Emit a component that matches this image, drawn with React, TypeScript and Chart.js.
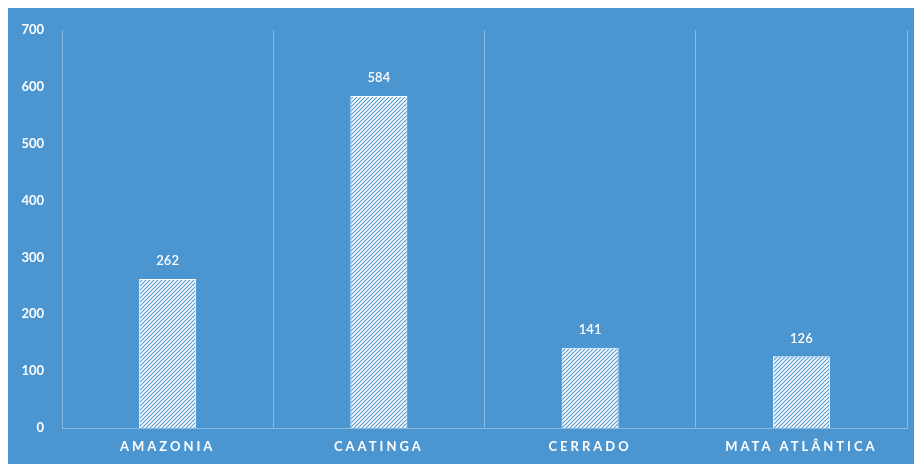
import React, { useEffect, useRef } from "react";
import { Chart, registerables } from "chart.js";

Chart.register(...registerables);

const categories = ["AMAZONIA", "CAATINGA", "CERRADO", "MATA ATLÂNTICA"];
const values = [262, 584, 141, 126];
const yMin = 0;
const yMax = 700;
const yStep = 100;

const BG = "#4b95d0";
const FONT = "Lato, 'Open Sans', 'Liberation Sans', sans-serif";

function makePattern(): CanvasPattern | string {
  const c = document.createElement("canvas");
  c.width = 4;
  c.height = 4;
  const g = c.getContext("2d");
  if (!g) return "#ffffff";
  g.fillStyle = BG;
  g.fillRect(0, 0, 4, 4);
  g.strokeStyle = "#ffffff";
  g.lineWidth = 1.8;
  g.lineCap = "square";
  const segs = [
    [-1, 5, 5, -1],
    [-5, 5, 1, -1],
    [3, 5, 9, -1],
  ];
  for (const s of segs) {
    g.beginPath();
    g.moveTo(s[0], s[1]);
    g.lineTo(s[2], s[3]);
    g.stroke();
  }
  const p = g.createPattern(c, "repeat");
  return p || "#ffffff";
}

const labelsPlugin = {
  id: "customLabels",
  afterDatasetsDraw(chart: any) {
    const ctx = chart.ctx;
    const meta = chart.getDatasetMeta(0);
    ctx.save();
    ctx.fillStyle = "#ffffff";
    ctx.font = `600 13px ${FONT}`;
    ctx.textAlign = "center";
    ctx.textBaseline = "middle";
    meta.data.forEach((bar: any, i: number) => {
      ctx.fillText(String(values[i]), bar.x, bar.y - 18);
    });
    ctx.restore();
  },
  afterDraw(chart: any) {
    const ctx = chart.ctx;
    const xs = chart.scales.x;
    ctx.save();
    ctx.fillStyle = "#ffffff";
    ctx.font = `bold 13px ${FONT}`;
    (ctx as any).letterSpacing = "3px";
    ctx.textAlign = "center";
    ctx.textBaseline = "middle";
    categories.forEach((c, i) => {
      ctx.fillText(c, xs.getPixelForValue(i), chart.chartArea.bottom + 19);
    });
    ctx.restore();
  },
};

export default function App() {
  const ref = useRef<HTMLCanvasElement>(null);
  useEffect(() => {
    if (!ref.current) return;
    const chart = new Chart(ref.current, {
      type: "bar",
      data: {
        labels: categories,
        datasets: [
          {
            data: values,
            backgroundColor: makePattern() as any,
            borderColor: "#ffffff",
            borderWidth: 1,
            barPercentage: 0.27,
            categoryPercentage: 1,
          },
        ],
      },
      options: {
        responsive: false,
        animation: false,
        devicePixelRatio: 1,
        layout: { padding: { left: 0, top: 22, right: 15, bottom: 0 } },
        plugins: { legend: { display: false }, tooltip: { enabled: false } },
        scales: {
          x: {
            offset: true,
            grid: {
              display: true,
              offset: true,
              color: "rgba(255,255,255,0.35)",
              lineWidth: 1,
              drawTicks: false,
            },
            border: { display: true, color: "rgba(255,255,255,0.35)" },
            ticks: { display: false },
            afterFit(scale: any) {
              scale.height = 36;
              scale.paddingLeft = 0;
              scale.paddingRight = 0;
            },
          },
          y: {
            min: yMin,
            max: yMax,
            grid: { display: false, drawTicks: false },
            border: { display: false },
            ticks: {
              stepSize: yStep,
              color: "#ffffff",
              padding: 18,
              font: { family: FONT, size: 13, weight: "bold" },
            },
            afterFit(scale: any) {
              scale.width = 54;
              scale.paddingTop = 0;
              scale.paddingBottom = 0;
            },
          },
        },
      },
      plugins: [labelsPlugin],
    });
    return () => chart.destroy();
  }, []);
  return (
    <div style={{ width: 914, height: 456, background: BG }}>
      <canvas ref={ref} width={914} height={456} style={{ display: "block" }} />
    </div>
  );
}
